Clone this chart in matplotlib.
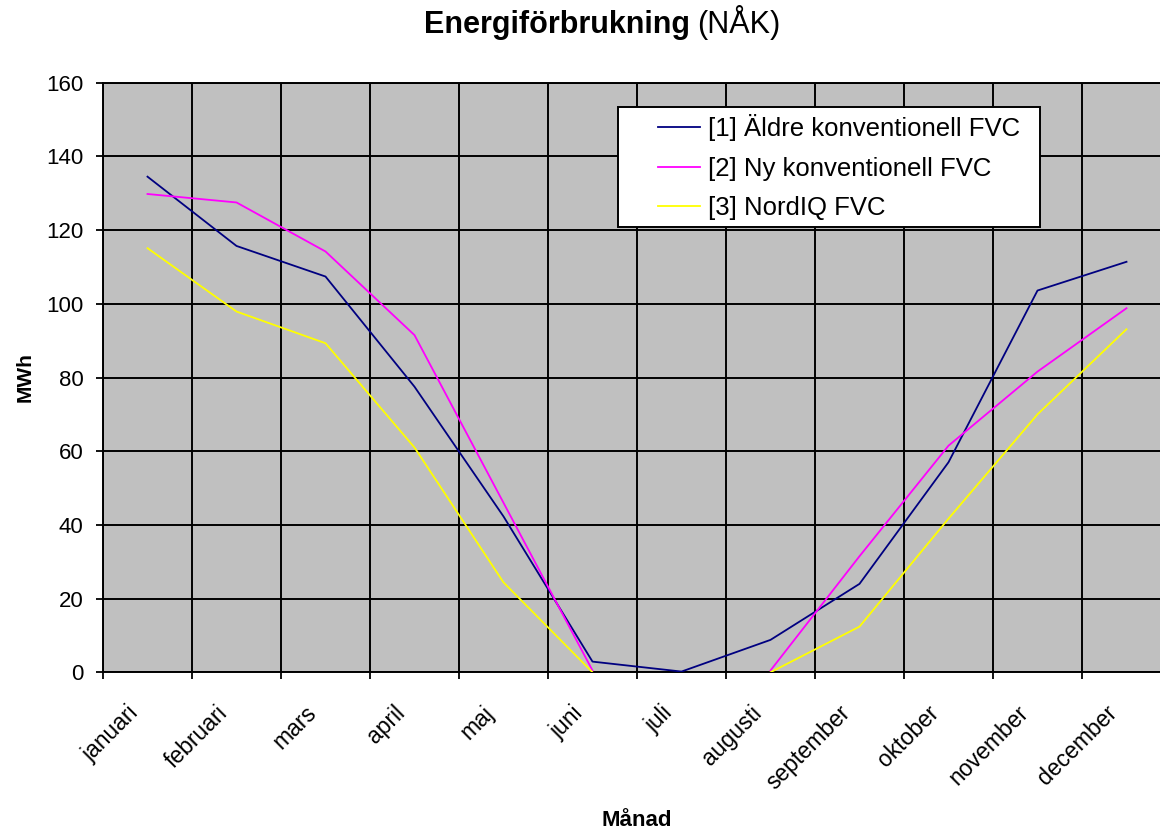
import matplotlib
matplotlib.use('Agg')
import matplotlib.pyplot as plt
import numpy as np
from matplotlib.transforms import ScaledTranslation
from matplotlib.patches import Rectangle

# ---- data ----
months = ['januari', 'februari', 'mars', 'april', 'maj', 'juni', 'juli',
          'augusti', 'september', 'oktober', 'november', 'december']
series_labels = ['[1] Äldre konventionell FVC', '[2] Ny konventionell FVC', '[3] NordIQ FVC']
aldre = [134.5, 115.7, 107.4, 77.5, 42.3, 2.9, 0.2, 8.8, 24.0, 57.0, 103.6, 111.4]
ny = [129.8, 127.5, 114.2, 91.5, 46.0, 0.5, np.nan, 0.5, 31.5, 61.5, 81.6, 98.8]
nordiq = [115.1, 97.9, 89.3, 61.0, 24.4, 0.0, np.nan, 0.0, 12.4, 41.7, 70.0, 93.1]
yticks = [0, 20, 40, 60, 80, 100, 120, 140, 160]
colors = ['#000080', '#FF00FF', '#FFFF00']

plt.rcParams['font.family'] = ['Liberation Sans', 'DejaVu Sans']

W, H = 1160, 831
fig = plt.figure(figsize=(W / 100, H / 100), dpi=100)
fig.patch.set_facecolor('white')


def fx(px):
    return px / W


def fy(py):
    return 1 - py / H


ax = fig.add_axes([fx(103), fy(672.3), fx(1171) - fx(103), fy(82.7) - fy(672.3)])
ax.set_facecolor('#C0C0C0')

x = np.arange(len(months))
handles = []
for vals, c, lab in zip([aldre, ny, nordiq], colors, series_labels):
    h, = ax.plot(x, vals, color=c, lw=1.3, zorder=3, label=lab)
    handles.append(h)

ax.set_xlim(-0.5, len(months) - 0.5)
ax.set_ylim(0, 160)
ax.set_yticks(yticks)
ax.set_xticks(np.arange(-0.5, len(months), 1.0))
ax.set_xticklabels([])

ax.grid(True, which='major', color='black', lw=1.4, zorder=1)
ax.set_axisbelow(True)
for s in ax.spines.values():
    s.set_color('black')
    s.set_linewidth(1.4)

ax.tick_params(axis='both', which='major', direction='out', length=5, width=1.3, color='black')
ax.tick_params(axis='y', labelsize=16, pad=9)

# category labels, centred on each category, rotated 45 degrees
offset = ScaledTranslation(-21 / 100, -29 / 100, fig.dpi_scale_trans)
for xi, m in zip(x, months):
    ax.text(xi, 0, m, transform=ax.get_xaxis_transform() + offset, rotation=45,
            rotation_mode='anchor', ha='right', va='top', fontsize=16.5, clip_on=False)

# legend box
ax.add_patch(Rectangle((fx(618), fy(227)), fx(1040) - fx(618), fy(107) - fy(227),
                       transform=fig.transFigure, facecolor='white', edgecolor='black',
                       lw=1.4, zorder=5, clip_on=False))
leg = ax.legend(handles=handles, loc='upper left', bbox_to_anchor=(fx(658), fy(114)),
                bbox_transform=fig.transFigure, frameon=False, borderpad=0,
                borderaxespad=0, fontsize=18.5, handlelength=1.63, handletextpad=0.32,
                labelspacing=0.61)
leg.set_zorder(6)

# axis labels
fig.text(fx(637), fy(820), 'Månad', ha='center', va='center', fontsize=16, fontweight='bold')
fig.text(fx(25), fy(377.5), 'MWh', ha='center', va='center', rotation=90, fontsize=15,
         fontweight='bold')

# title: bold + regular part
t1 = fig.text(0, fy(33), 'Energiförbrukning', ha='left', va='baseline', fontsize=22,
              fontweight='bold')
t2 = fig.text(0, fy(33), '(NÅK)', ha='left', va='baseline', fontsize=22)
r = fig.canvas.get_renderer()
w1 = t1.get_window_extent(r).width
w2 = t2.get_window_extent(r).width
gap = 7
total = w1 + gap + w2
start = 602 - total / 2
t1.set_x(fx(start))
t2.set_x(fx(start + w1 + gap))

fig.savefig('out.png', dpi=100)
